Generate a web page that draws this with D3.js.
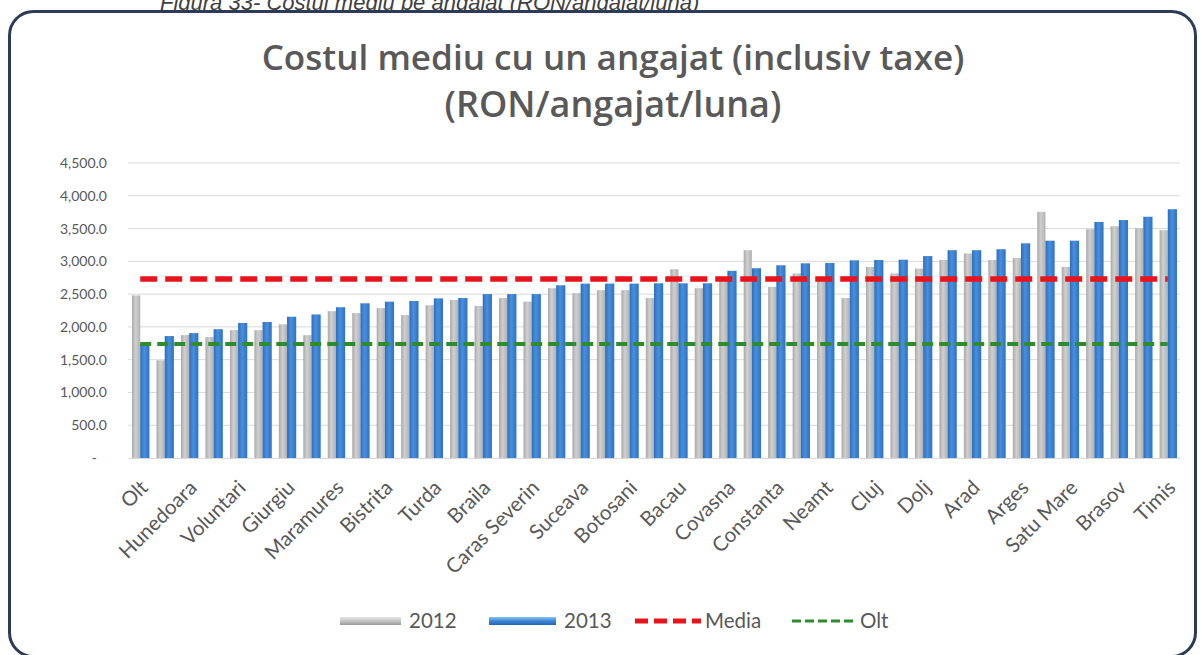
<!DOCTYPE html>
<html>
<head>
<meta charset="utf-8">
<script src="https://cdn.jsdelivr.net/npm/d3@7"></script>
<style>
  html, body { margin: 0; padding: 0; background: #fff; overflow: hidden; }
  svg { display: block; }
</style>
</head>
<body>
<svg id="chart" width="1203" height="655"></svg>
<script>
// Average cost per employee, by county/city (RON/employee/month)
const categories = [
  "Olt", "Ialomita", "Hunedoara", "Vaslui", "Voluntari", "Teleorman", "Giurgiu", "Salaj",
  "Maramures", "Gorj", "Bistrita", "Calarasi", "Turda", "Mehedinti", "Braila", "Vrancea",
  "Caras Severin", "Tulcea", "Suceava", "Buzau", "Botosani", "Harghita", "Bacau", "Valcea",
  "Covasna", "Dambovita", "Constanta", "Bihor", "Neamt", "Mures", "Cluj", "Galati",
  "Dolj", "Iasi", "Arad", "Sibiu", "Arges", "Prahova", "Satu Mare", "Ilfov",
  "Brasov", "Alba", "Timis"
];
const values2012 = [
  2480, 1490, 1875, 1845, 1950, 1950, 2040, 1875, 2240, 2210, 2285, 2180, 2330, 2410,
  2320, 2440, 2385, 2590, 2515, 2560, 2560, 2440, 2880, 2590, 2740, 3170, 2610, 2815,
  2765, 2440, 2915, 2815, 2890, 3020, 3120, 3020, 3050, 3755, 2915, 3490, 3535, 3505, 3475
];
const values2013 = [
  1740, 1860, 1905, 1965, 2060, 2075, 2155, 2190, 2300, 2360, 2385, 2395, 2435, 2440,
  2500, 2500, 2500, 2635, 2660, 2660, 2660, 2665, 2665, 2665, 2855, 2895, 2940, 2970,
  2975, 3015, 3020, 3025, 3080, 3170, 3170, 3185, 3275, 3315, 3315, 3600, 3630, 3680, 3795
];
const mediaValue = 2730;          // national average
const oltValue = values2013[0];   // Olt reference level
const yTicks = [0, 500, 1000, 1500, 2000, 2500, 3000, 3500, 4000, 4500];
const seriesNames = ["2012", "2013", "Media", "Olt"];

const svg = d3.select("#chart");
const textColor = "#595959";
const font = "Lato, 'Open Sans', sans-serif";

// caption above the frame
svg.append("text")
  .attr("x", 160).attr("y", 10)
  .attr("font-family", "Liberation Sans, Arial, sans-serif")
  .attr("font-style", "italic")
  .attr("font-size", 22)
  .attr("fill", "#404040")
  .text("Figura 33- Costul mediu pe angajat (RON/angajat/luna)");

// rounded frame
svg.append("rect")
  .attr("x", 9.5).attr("y", 11.5)
  .attr("width", 1186).attr("height", 645)
  .attr("rx", 24).attr("ry", 24)
  .attr("fill", "#fff")
  .attr("stroke", "#2c3b58")
  .attr("stroke-width", 3);

// title, sized to its line widths
const title = svg.append("g")
  .attr("text-anchor", "middle")
  .attr("font-family", "'Open Sans', Lato, sans-serif")
  .attr("font-weight", 600)
  .attr("fill", textColor);
[["Costul mediu cu un angajat (inclusiv taxe)", 70, 703], ["(RON/angajat/luna)", 117, 337]].forEach(([t, yy, w]) => {
  const el = title.append("text").attr("x", 613).attr("y", yy).attr("font-size", 32).text(t);
  const len = el.node().getComputedTextLength();
  el.attr("font-size", 32 * w / len);
});

// scales
const x = d3.scaleBand().domain(categories).range([128, 1180]).paddingInner(0.33).paddingOuter(0.165);
const sub = d3.scaleBand().domain(["2012", "2013"]).range([0, x.bandwidth()]).padding(0);
const y = d3.scaleLinear().domain([0, 4500]).range([458, 163]);

// gradients for bars and legend keys
const defs = svg.append("defs");
function grad(id, stops, vertical) {
  const g = defs.append("linearGradient").attr("id", id)
    .attr("x1", 0).attr("y1", 0).attr("x2", vertical ? 0 : 1).attr("y2", vertical ? 1 : 0);
  stops.forEach(s => g.append("stop").attr("offset", s[0]).attr("stop-color", s[1]));
}
grad("g2012", [[0, "#a9a9a9"], [0.45, "#d0d0d0"], [1, "#b0b0b0"]]);
grad("g2013", [[0, "#2a6fc0"], [0.45, "#4a8fdc"], [1, "#2d72c4"]]);
grad("lg2012", [[0, "#e6e6e6"], [0.5, "#c4c4c4"], [1, "#9a9a9a"]], true);
grad("lg2013", [[0, "#8cc4f2"], [0.5, "#3c86d6"], [1, "#2566b4"]], true);

// gridlines
svg.append("g")
  .selectAll("line")
  .data(yTicks.filter(d => d > 0))
  .join("line")
  .attr("x1", 128).attr("x2", 1180)
  .attr("y1", d => y(d)).attr("y2", d => y(d))
  .attr("stroke", "#d9d9d9").attr("stroke-width", 1);

// y axis labels
const yAxis = d3.axisLeft(y)
  .tickValues(yTicks)
  .tickSize(0)
  .tickPadding(0)
  .tickFormat(d => d === 0 ? "-" : d3.format(",.1f")(d));
const yg = svg.append("g").attr("transform", "translate(107,0)").call(yAxis);
yg.select(".domain").remove();
yg.selectAll("text")
  .attr("font-family", font)
  .attr("font-size", 14)
  .attr("fill", textColor)
  .attr("dx", d => d === 0 ? -10 : 0);

// bars
const rows = categories.map((c, i) => ({ c, v2012: values2012[i], v2013: values2013[i] }));
const bars = svg.append("g");
bars.selectAll("rect.b12").data(rows).join("rect")
  .attr("class", "b12")
  .attr("x", d => x(d.c) + sub("2012"))
  .attr("width", sub.bandwidth())
  .attr("y", d => y(d.v2012))
  .attr("height", d => y(0) - y(d.v2012))
  .attr("fill", "url(#g2012)");
bars.selectAll("rect.b13").data(rows).join("rect")
  .attr("class", "b13")
  .attr("x", d => x(d.c) + sub("2013"))
  .attr("width", sub.bandwidth() + 1)
  .attr("y", d => y(d.v2013))
  .attr("height", d => y(0) - y(d.v2013))
  .attr("fill", "url(#g2013)");

// x axis baseline
svg.append("line")
  .attr("x1", 128).attr("x2", 1180)
  .attr("y1", y(0) + 0.5).attr("y2", y(0) + 0.5)
  .attr("stroke", "#d9d9d9");

// reference lines
const cx = c => x(c) + x.bandwidth() / 2;
const refLine = d3.line().x(d => cx(d.c)).y(d => y(d.v));
svg.append("path")
  .datum(categories.map(c => ({ c, v: mediaValue })))
  .attr("d", refLine)
  .attr("fill", "none").attr("stroke", "#e8141c")
  .attr("stroke-width", 5.5).attr("stroke-dasharray", "17,8");
svg.append("path")
  .datum(categories.map(c => ({ c, v: oltValue })))
  .attr("d", refLine)
  .attr("fill", "none").attr("stroke", "#2e8b2e")
  .attr("stroke-width", 4).attr("stroke-dasharray", "11,6");

// category labels (every other category)
const xAxis = d3.axisBottom(x)
  .tickValues(categories.filter((c, i) => i % 2 === 0))
  .tickSize(0).tickPadding(0);
const xg = svg.append("g").attr("transform", `translate(0,${y(0)})`).call(xAxis);
xg.select(".domain").remove();
xg.selectAll("text")
  .attr("font-family", font)
  .attr("font-size", 20.5)
  .attr("fill", textColor)
  .attr("text-anchor", "end")
  .attr("dy", 0)
  .attr("transform", "translate(9,31) rotate(-45)");

// legend
const lg = svg.append("g").attr("font-family", font).attr("font-size", 20.5).attr("fill", textColor);
lg.append("rect").attr("x", 340).attr("y", 617).attr("width", 61).attr("height", 8).attr("fill", "url(#lg2012)");
lg.append("text").attr("x", 409).attr("y", 628).text(seriesNames[0]);
lg.append("rect").attr("x", 489).attr("y", 617).attr("width", 67).attr("height", 8).attr("fill", "url(#lg2013)");
lg.append("text").attr("x", 564).attr("y", 628).text(seriesNames[1]);
lg.append("line").attr("x1", 635).attr("x2", 701).attr("y1", 621).attr("y2", 621)
  .attr("stroke", "#e8141c").attr("stroke-width", 5).attr("stroke-dasharray", "13,6");
lg.append("text").attr("x", 705).attr("y", 628).text(seriesNames[2]);
lg.append("line").attr("x1", 792).attr("x2", 856).attr("y1", 621).attr("y2", 621)
  .attr("stroke", "#2e8b2e").attr("stroke-width", 3).attr("stroke-dasharray", "9,4");
lg.append("text").attr("x", 860).attr("y", 628).text(seriesNames[3]);
</script>
</body>
</html>
